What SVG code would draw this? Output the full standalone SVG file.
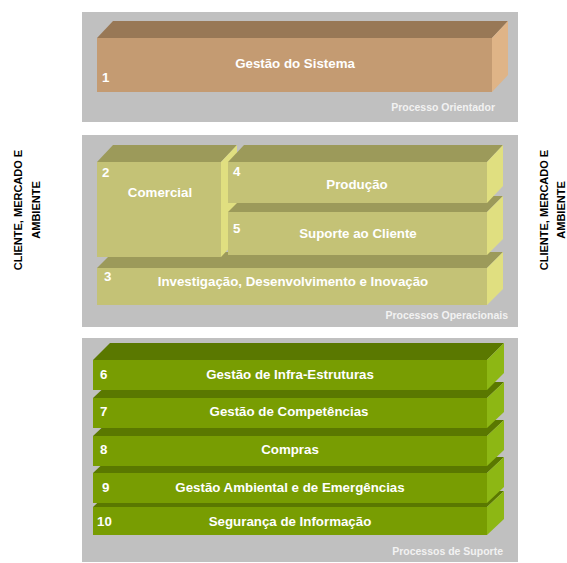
<svg xmlns="http://www.w3.org/2000/svg" width="567" height="563" viewBox="0 0 567 563">
<style>
.panel{fill:#C0C0C0}
.lbl{font-family:"Liberation Sans",Arial,sans-serif;font-weight:bold;font-size:13.3px;fill:#FFFFFF}
.mid{text-anchor:middle}
.cap{font-family:"Liberation Sans",Arial,sans-serif;font-weight:bold;font-size:10.5px;fill:#F2F2F2;text-anchor:end}
.side{font-family:"Liberation Sans",Arial,sans-serif;font-weight:bold;font-size:11px;fill:#000000;text-anchor:middle}
.bf{fill:#C49B72}.bt{fill:#987856}.bs{fill:#DFB487}
.of{fill:#C4C276}.ot{fill:#9C9A5A}.os{fill:#E0DF80}
.gf{fill:#789D02}.gt{fill:#5A7800}.gs{fill:#8DB714}
</style>
<rect width="567" height="563" fill="#FFFFFF"/>
<g id="panel-orientador">
<rect class="panel" x="82" y="12" width="436" height="110"/>
<text class="cap" x="495" y="111">Processo Orientador</text>
</g>
<g id="panel-operacionais">
<rect class="panel" x="82" y="135" width="436" height="192"/>
<text class="cap" x="508" y="319">Processos Operacionais</text>
</g>
<g id="panel-suporte">
<rect class="panel" x="82" y="338" width="436" height="224"/>
<text class="cap" x="503" y="555">Processos de Suporte</text>
</g>

<g id="n1">
<polygon class="bt" points="97,38 492,38 508,21 113,21"/>
<polygon class="bs" points="492,38 508,21 508,75 492,92"/>
<rect class="bf" x="97" y="38" width="395" height="54"/>
<text class="lbl mid" x="295" y="68">Gestão do Sistema</text>
<text class="lbl" x="102" y="82">1</text>
</g>

<g id="n3">
<polygon class="ot" points="97,268 487,268 503,252 113,252"/>
<polygon class="os" points="487,268 503,252 503,289 487,305"/>
<rect class="of" x="97" y="268" width="390" height="37"/>
<text class="lbl" x="104" y="281">3</text>
<text class="lbl mid" x="293" y="286">Investigação, Desenvolvimento e Inovação</text>
</g>

<g id="n2">
<polygon class="ot" points="97,162 221,162 237,145 113,145"/>
<polygon class="os" points="221,162 237,145 237,240 221,257"/>
<rect class="of" x="97" y="162" width="124" height="95"/>
<text class="lbl" x="102" y="177">2</text>
<text class="lbl mid" x="160" y="197">Comercial</text>
</g>

<g id="n5">
<polygon class="ot" points="228,212 487,212 503,196 244,196"/>
<polygon class="os" points="487,212 503,196 503,239 487,255"/>
<rect class="of" x="228" y="212" width="259" height="43"/>
<text class="lbl" x="233" y="233">5</text>
<text class="lbl mid" x="358" y="238">Suporte ao Cliente</text>
</g>

<g id="n4">
<polygon class="ot" points="228,162 487,162 503,145 244,145"/>
<polygon class="os" points="487,162 503,145 503,186 487,203"/>
<rect class="of" x="228" y="162" width="259" height="41"/>
<text class="lbl" x="233" y="176">4</text>
<text class="lbl mid" x="357" y="189">Produção</text>
</g>

<g id="n10">
<polygon class="gt" points="93,507 487,507 504,491 110,491"/>
<polygon class="gs" points="487,507 504,491 504,519 487,535"/>
<rect class="gf" x="93" y="507" width="394" height="28"/>
<text class="lbl" x="97" y="526">10</text>
<text class="lbl mid" x="290" y="526">Segurança de Informação</text>
</g>

<g id="n9">
<polygon class="gt" points="93,473 487,473 504,457 110,457"/>
<polygon class="gs" points="487,473 504,457 504,487 487,503"/>
<rect class="gf" x="93" y="473" width="394" height="30"/>
<text class="lbl" x="102" y="492">9</text>
<text class="lbl mid" x="290" y="492">Gestão Ambiental e de Emergências</text>
</g>

<g id="n8">
<polygon class="gt" points="93,436 487,436 504,420 110,420"/>
<polygon class="gs" points="487,436 504,420 504,450 487,466"/>
<rect class="gf" x="93" y="436" width="394" height="30"/>
<text class="lbl" x="100" y="454">8</text>
<text class="lbl mid" x="290" y="454">Compras</text>
</g>

<g id="n7">
<polygon class="gt" points="93,398 487,398 504,382 110,382"/>
<polygon class="gs" points="487,398 504,382 504,412 487,428"/>
<rect class="gf" x="93" y="398" width="394" height="30"/>
<text class="lbl" x="100" y="416">7</text>
<text class="lbl mid" x="289" y="416">Gestão de Competências</text>
</g>

<g id="n6">
<polygon class="gt" points="93,360 487,360 504,343 110,343"/>
<polygon class="gs" points="487,360 504,343 504,373 487,390"/>
<rect class="gf" x="93" y="360" width="394" height="30"/>
<text class="lbl" x="100" y="379">6</text>
<text class="lbl mid" x="290" y="379">Gestão de Infra-Estruturas</text>
</g>

<g id="side-left">
<text class="side" transform="translate(22,210) rotate(-90)">CLIENTE, MERCADO E</text>
<text class="side" transform="translate(40,210) rotate(-90)">AMBIENTE</text>
</g>
<g id="side-right">
<text class="side" transform="translate(548,210) rotate(-90)">CLIENTE, MERCADO E</text>
<text class="side" transform="translate(565,210) rotate(-90)">AMBIENTE</text>
</g>
<g id="connectors"></g>
</svg>
